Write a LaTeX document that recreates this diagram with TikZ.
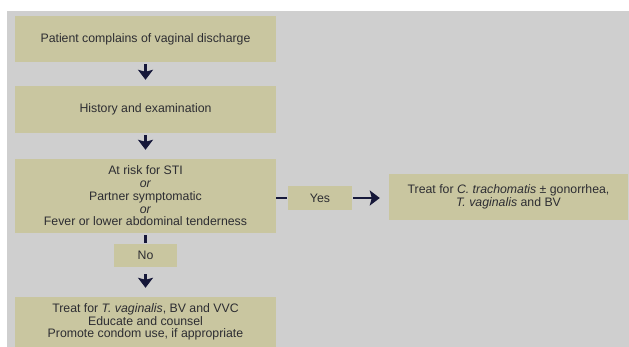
\documentclass[tikz,border=0pt]{standalone}
\usepackage{fontspec}
\setmainfont{Liberation Sans}
\usetikzlibrary{arrows.meta}
\definecolor{panelgray}{RGB}{207,207,207}
\definecolor{boxkhaki}{RGB}{201,198,160}
\definecolor{arrownavy}{RGB}{22,24,58}
\definecolor{txtgray}{RGB}{45,45,50}

\begin{document}
\begin{tikzpicture}[x=1pt,y=-1pt,
    every node/.style={font=\fontsize{12.3}{12.7}\selectfont, text=txtgray, align=center},
    box/.style={fill=boxkhaki, inner sep=0pt},
    arr/.style={draw=arrownavy, line width=2.8pt, -{Stealth[length=10pt,width=15pt,inset=2pt]}},
    link/.style={draw=arrownavy, line width=2.8pt}]
    \useasboundingbox (0,0) rectangle (629,347);
    \fill[white] (0,0) rectangle (629,347);
    \fill[panelgray] (7,11) rectangle (629,347);
    \node[box, minimum width=261pt, minimum height=46pt] (complains) at (145.5,39) {Patient complains of vaginal discharge};
    \node[box, minimum width=261pt, minimum height=47pt] (history) at (145.5,109.5) {History and examination};
    \node[box, minimum width=261pt, minimum height=74pt] (risk) at (145.5,196) {At risk for STI\\\textit{or}\\Partner symptomatic\\\textit{or}\\Fever or lower abdominal tenderness};
    \node[box, minimum width=63pt, minimum height=23pt] (no) at (145.5,255.5) {No};
    \node[box, minimum width=261pt, minimum height=50pt] (treatvag) at (145.5,322) {Treat for \textit{T. vaginalis}, BV and VVC\\Educate and counsel\\Promote condom use, if appropriate};
    \node[box, minimum width=64pt, minimum height=24pt] (yes) at (320,198) {Yes};
    \node[box, minimum width=239pt, minimum height=46pt] (treatchl) at (508.5,197) {Treat for \textit{C. trachomatis} ± gonorrhea,\\\textit{T. vaginalis} and BV};
    \draw[arr, shorten <=2pt, shorten >=6pt] (complains) -- (history);
    \draw[arr, shorten <=2pt, shorten >=9pt] (history) -- (risk);
    \draw[link, shorten <=2pt, shorten >=1pt] (risk) -- (no);
    \draw[arr, shorten <=7pt, shorten >=9pt] (no) -- (treatvag);
    \draw[link, shorten <=0pt, shorten >=1pt] (risk.east |- yes.west) -- (yes.west);
    \draw[arr, shorten <=1pt, shorten >=9pt] (yes) -- (treatchl.west |- yes.east);
\end{tikzpicture}
\end{document}
